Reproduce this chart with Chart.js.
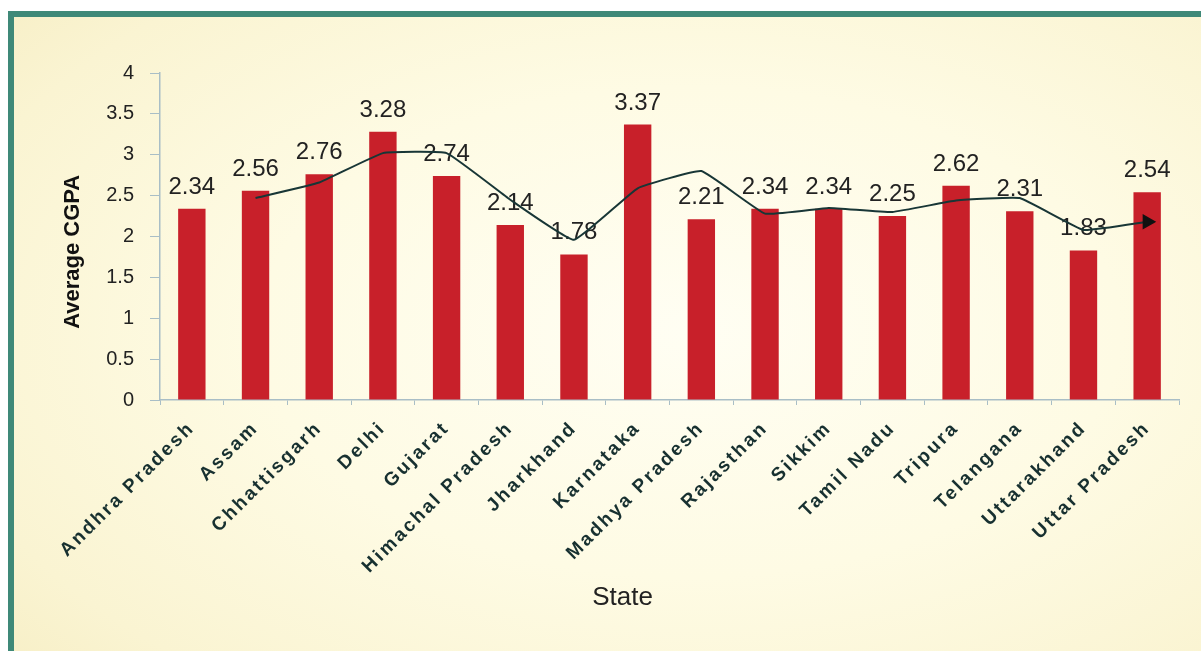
<!DOCTYPE html>
<html>
<head>
<meta charset="utf-8">
<script src="https://cdn.jsdelivr.net/npm/chart.js@4"></script>
<style>
  html, body { margin: 0; padding: 0; background: #fff; }
  body { width: 1201px; height: 651px; position: relative; overflow: hidden; }
  .frame {
    position: absolute; left: 8px; top: 11px; width: 1300px; height: 700px;
    border-left: 6px solid #3f8978; border-top: 6px solid #3f8978;
    background: radial-gradient(ellipse at 52% 45%, #fffef3 0%, #fefbe4 45%, #faf4d2 80%, #f6edc2 100%);
  }
  #wrap { position: absolute; left: 0; top: 0; width: 1201px; height: 651px; }
</style>
</head>
<body>
<div class="frame"></div>
<div id="wrap"><canvas id="chart"></canvas></div>
<script>
const states = ['Andhra Pradesh', 'Assam', 'Chhattisgarh', 'Delhi', 'Gujarat', 'Himachal Pradesh',
  'Jharkhand', 'Karnataka', 'Madhya Pradesh', 'Rajasthan', 'Sikkim', 'Tamil Nadu', 'Tripura',
  'Telangana', 'Uttarakhand', 'Uttar Pradesh'];
const avgCgpa = [2.34, 2.56, 2.76, 3.28, 2.74, 2.14, 1.78, 3.37, 2.21, 2.34, 2.34, 2.25, 2.62, 2.31, 1.83, 2.54];
// trend line, starts at Assam
const trend = [null, 2.47, 2.66, 3.02, 3.02, 2.45, 1.96, 2.59, 2.80, 2.28, 2.35, 2.30, 2.44, 2.47, 2.08, 2.18];
const yTicks = [0, 0.5, 1, 1.5, 2, 2.5, 3, 3.5, 4];

const FONT = "'Liberation Sans', Arial, sans-serif";
const axisColor = '#a9bec6';

// value labels above bars, drawn before the trend line so the line crosses them
const barLabels = {
  id: 'barLabels',
  beforeDraw(chart) {
    chart.ctx.letterSpacing = '2.5px'; // spaced-out state names
  },
  beforeDatasetsDraw(chart) {
    chart.ctx.letterSpacing = '0px';
  },
  afterDatasetDraw(chart, args) {
    if (args.index !== 0) return;
    const ctx = chart.ctx;
    ctx.save();
    ctx.font = '24px ' + FONT;
    ctx.fillStyle = '#222';
    ctx.textAlign = 'center';
    ctx.textBaseline = 'alphabetic';
    args.meta.data.forEach((bar, i) => {
      ctx.fillText(avgCgpa[i].toFixed(2), bar.x, bar.y - 15);
    });
    ctx.restore();
  },
  afterDraw(chart) {
    const ctx = chart.ctx;
    const area = chart.chartArea;
    ctx.save();
    ctx.letterSpacing = '0px';
    ctx.font = '26px ' + FONT;
    ctx.fillStyle = '#222';
    ctx.textAlign = 'center';
    ctx.textBaseline = 'middle';
    ctx.fillText('State', (area.left + area.right) / 2 - 47, 598);
    ctx.restore();
  }
};

new Chart(document.getElementById('chart'), {
  data: {
    labels: states,
    datasets: [
      {
        type: 'bar',
        data: avgCgpa,
        backgroundColor: '#c8202a',
        barPercentage: 0.43,
        categoryPercentage: 1,
        order: 2,
      },
      {
        type: 'line',
        data: trend,
        borderColor: '#183636',
        borderWidth: 2,
        tension: 0.1,
        pointRadius: trend.map((v, i) => i === trend.length - 1 ? 7 : 0),
        pointStyle: 'triangle',
        pointRotation: 90,
        pointBackgroundColor: '#111',
        pointBorderColor: '#111',
        order: 1,
      },
    ],
  },
  options: {
    responsive: true,
    maintainAspectRatio: false,
    animation: false,
    layout: { padding: { top: 73, right: 22, left: 0, bottom: 0 } },
    plugins: { legend: { display: false }, tooltip: { enabled: false } },
    scales: {
      x: {
        grid: { display: true, drawOnChartArea: false, color: axisColor, tickLength: 5, offset: true },
        border: { color: axisColor, width: 1.5 },
        ticks: {
          minRotation: 45, maxRotation: 45, autoSkip: false, padding: 12,
          color: '#173030',
          font: { family: FONT, size: 19, weight: 'bold' },
        },
        afterFit(scale) { scale.height = 251; },
      },
      y: {
        min: 0, max: 4,
        afterBuildTicks(scale) { scale.ticks = yTicks.map(v => ({ value: v })); },
        grid: { display: true, drawOnChartArea: false, color: axisColor, tickLength: 10, z: 1 },
        border: { color: axisColor, width: 1.5, z: 2 },
        ticks: {
          z: 1,
          padding: 16, color: '#222',
          font: { family: FONT, size: 20 },
          callback: v => String(v),
        },
        title: {
          display: true, text: 'Average CGPA     ', color: '#111',
          font: { family: FONT, size: 22, weight: 'bold' },
          padding: { top: 60, bottom: 0 },
        },
        afterFit(scale) { scale.width = 160; },
      },
    },
  },
  plugins: [barLabels],
});
</script>
</body>
</html>
